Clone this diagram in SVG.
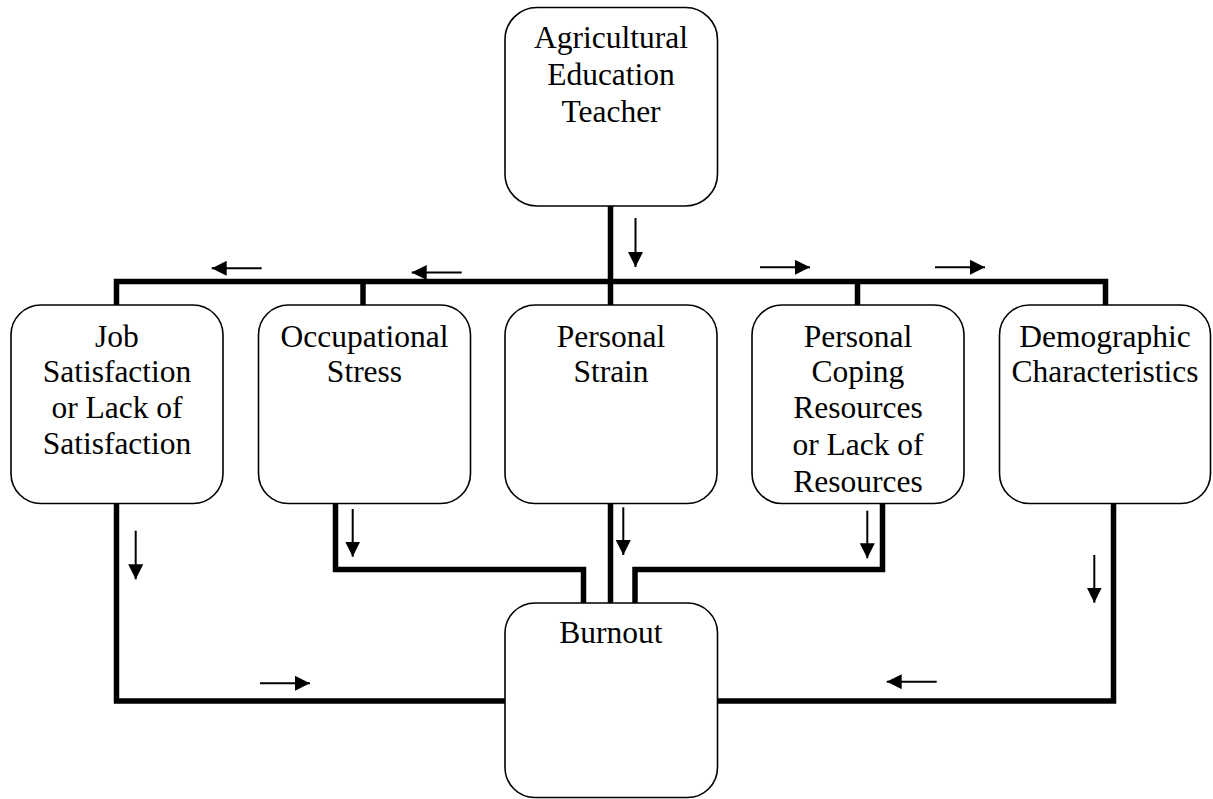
<svg xmlns="http://www.w3.org/2000/svg" width="1213" height="799" viewBox="0 0 1213 799">
<style>
.box{fill:#fff;stroke:#000;stroke-width:1.6}
.lbl{font-family:"Liberation Serif","Times New Roman",serif;font-size:31.5px;fill:#000;text-anchor:middle}
.wire{fill:none;stroke:#000;stroke-width:5.5;stroke-linejoin:miter;stroke-linecap:butt}
.arr{fill:none;stroke:#000;stroke-width:2;marker-end:url(#ah)}
</style>
<defs>
<marker id="ah" viewBox="0 0 15 15" refX="15" refY="7.5" markerWidth="15" markerHeight="15" markerUnits="userSpaceOnUse" orient="auto">
<path d="M0,0 L15,7.5 L0,15 z" fill="#000"/>
</marker>
</defs>
<rect width="1213" height="799" fill="#fff"/>
<g id="connectors">
<path class="wire" d="M610.5,206 V305"/>
<path class="wire" d="M116.5,305 V281.5 H1105.5 V305"/>
<path class="wire" d="M363,281.5 V305"/>
<path class="wire" d="M857.5,281.5 V305"/>
<path class="wire" d="M116.5,503 V701 H505"/>
<path class="wire" d="M335.5,503 V569.5 H583.5 V603"/>
<path class="wire" d="M610.5,503 V603"/>
<path class="wire" d="M882.5,503 V569.5 H635 V603"/>
<path class="wire" d="M1113.5,502 V701 H717"/>
<line class="arr" x1="635.5" y1="218" x2="635.5" y2="267"/>
<line class="arr" x1="261.7" y1="268.3" x2="211.7" y2="268.3"/>
<line class="arr" x1="461.7" y1="272.5" x2="411.7" y2="272.5"/>
<line class="arr" x1="760" y1="267.3" x2="810" y2="267.3"/>
<line class="arr" x1="935" y1="267.3" x2="985" y2="267.3"/>
<line class="arr" x1="135.7" y1="530.7" x2="135.7" y2="579.3"/>
<line class="arr" x1="352.7" y1="509" x2="352.7" y2="556.7"/>
<line class="arr" x1="623.3" y1="507.3" x2="623.3" y2="555"/>
<line class="arr" x1="867.3" y1="510.7" x2="867.3" y2="558.3"/>
<line class="arr" x1="1094.3" y1="555" x2="1094.3" y2="602.7"/>
<line class="arr" x1="260" y1="683.3" x2="310" y2="683.3"/>
<line class="arr" x1="936.7" y1="681.7" x2="886.7" y2="681.7"/>
</g>
<g id="teacher">
<rect class="box" x="505" y="7.5" width="212.5" height="198.5" rx="32" ry="32"/>
<text class="lbl" x="611" y="48.3">Agricultural</text>
<text class="lbl" x="611" y="85">Education</text>
<text class="lbl" x="611" y="121.7">Teacher</text>
</g>
<g id="job">
<rect class="box" x="11" y="305" width="212" height="198.5" rx="30" ry="30"/>
<text class="lbl" x="117" y="346.7">Job</text>
<text class="lbl" x="117" y="382.3">Satisfaction</text>
<text class="lbl" x="117" y="418.3">or Lack of</text>
<text class="lbl" x="117" y="454.3">Satisfaction</text>
</g>
<g id="stress">
<rect class="box" x="258.5" y="305" width="212" height="198.5" rx="30" ry="30"/>
<text class="lbl" x="364.5" y="346.7">Occupational</text>
<text class="lbl" x="364.5" y="382.3">Stress</text>
</g>
<g id="strain">
<rect class="box" x="505" y="305" width="212" height="198.5" rx="30" ry="30"/>
<text class="lbl" x="611" y="346.7">Personal</text>
<text class="lbl" x="611" y="382.3">Strain</text>
</g>
<g id="coping">
<rect class="box" x="752" y="305" width="212" height="198.5" rx="30" ry="30"/>
<text class="lbl" x="858" y="346.7">Personal</text>
<text class="lbl" x="858" y="382">Coping</text>
<text class="lbl" x="858" y="418.3">Resources</text>
<text class="lbl" x="858" y="455">or Lack of</text>
<text class="lbl" x="858" y="491.5">Resources</text>
</g>
<g id="demographic">
<rect class="box" x="999.5" y="305" width="211" height="198.5" rx="30" ry="30"/>
<text class="lbl" x="1105" y="346.7">Demographic</text>
<text class="lbl" x="1105" y="382.3">Characteristics</text>
</g>
<g id="burnout">
<rect class="box" x="505" y="603" width="212.5" height="194.5" rx="30" ry="30"/>
<text class="lbl" x="611" y="642.7">Burnout</text>
</g>
</svg>
